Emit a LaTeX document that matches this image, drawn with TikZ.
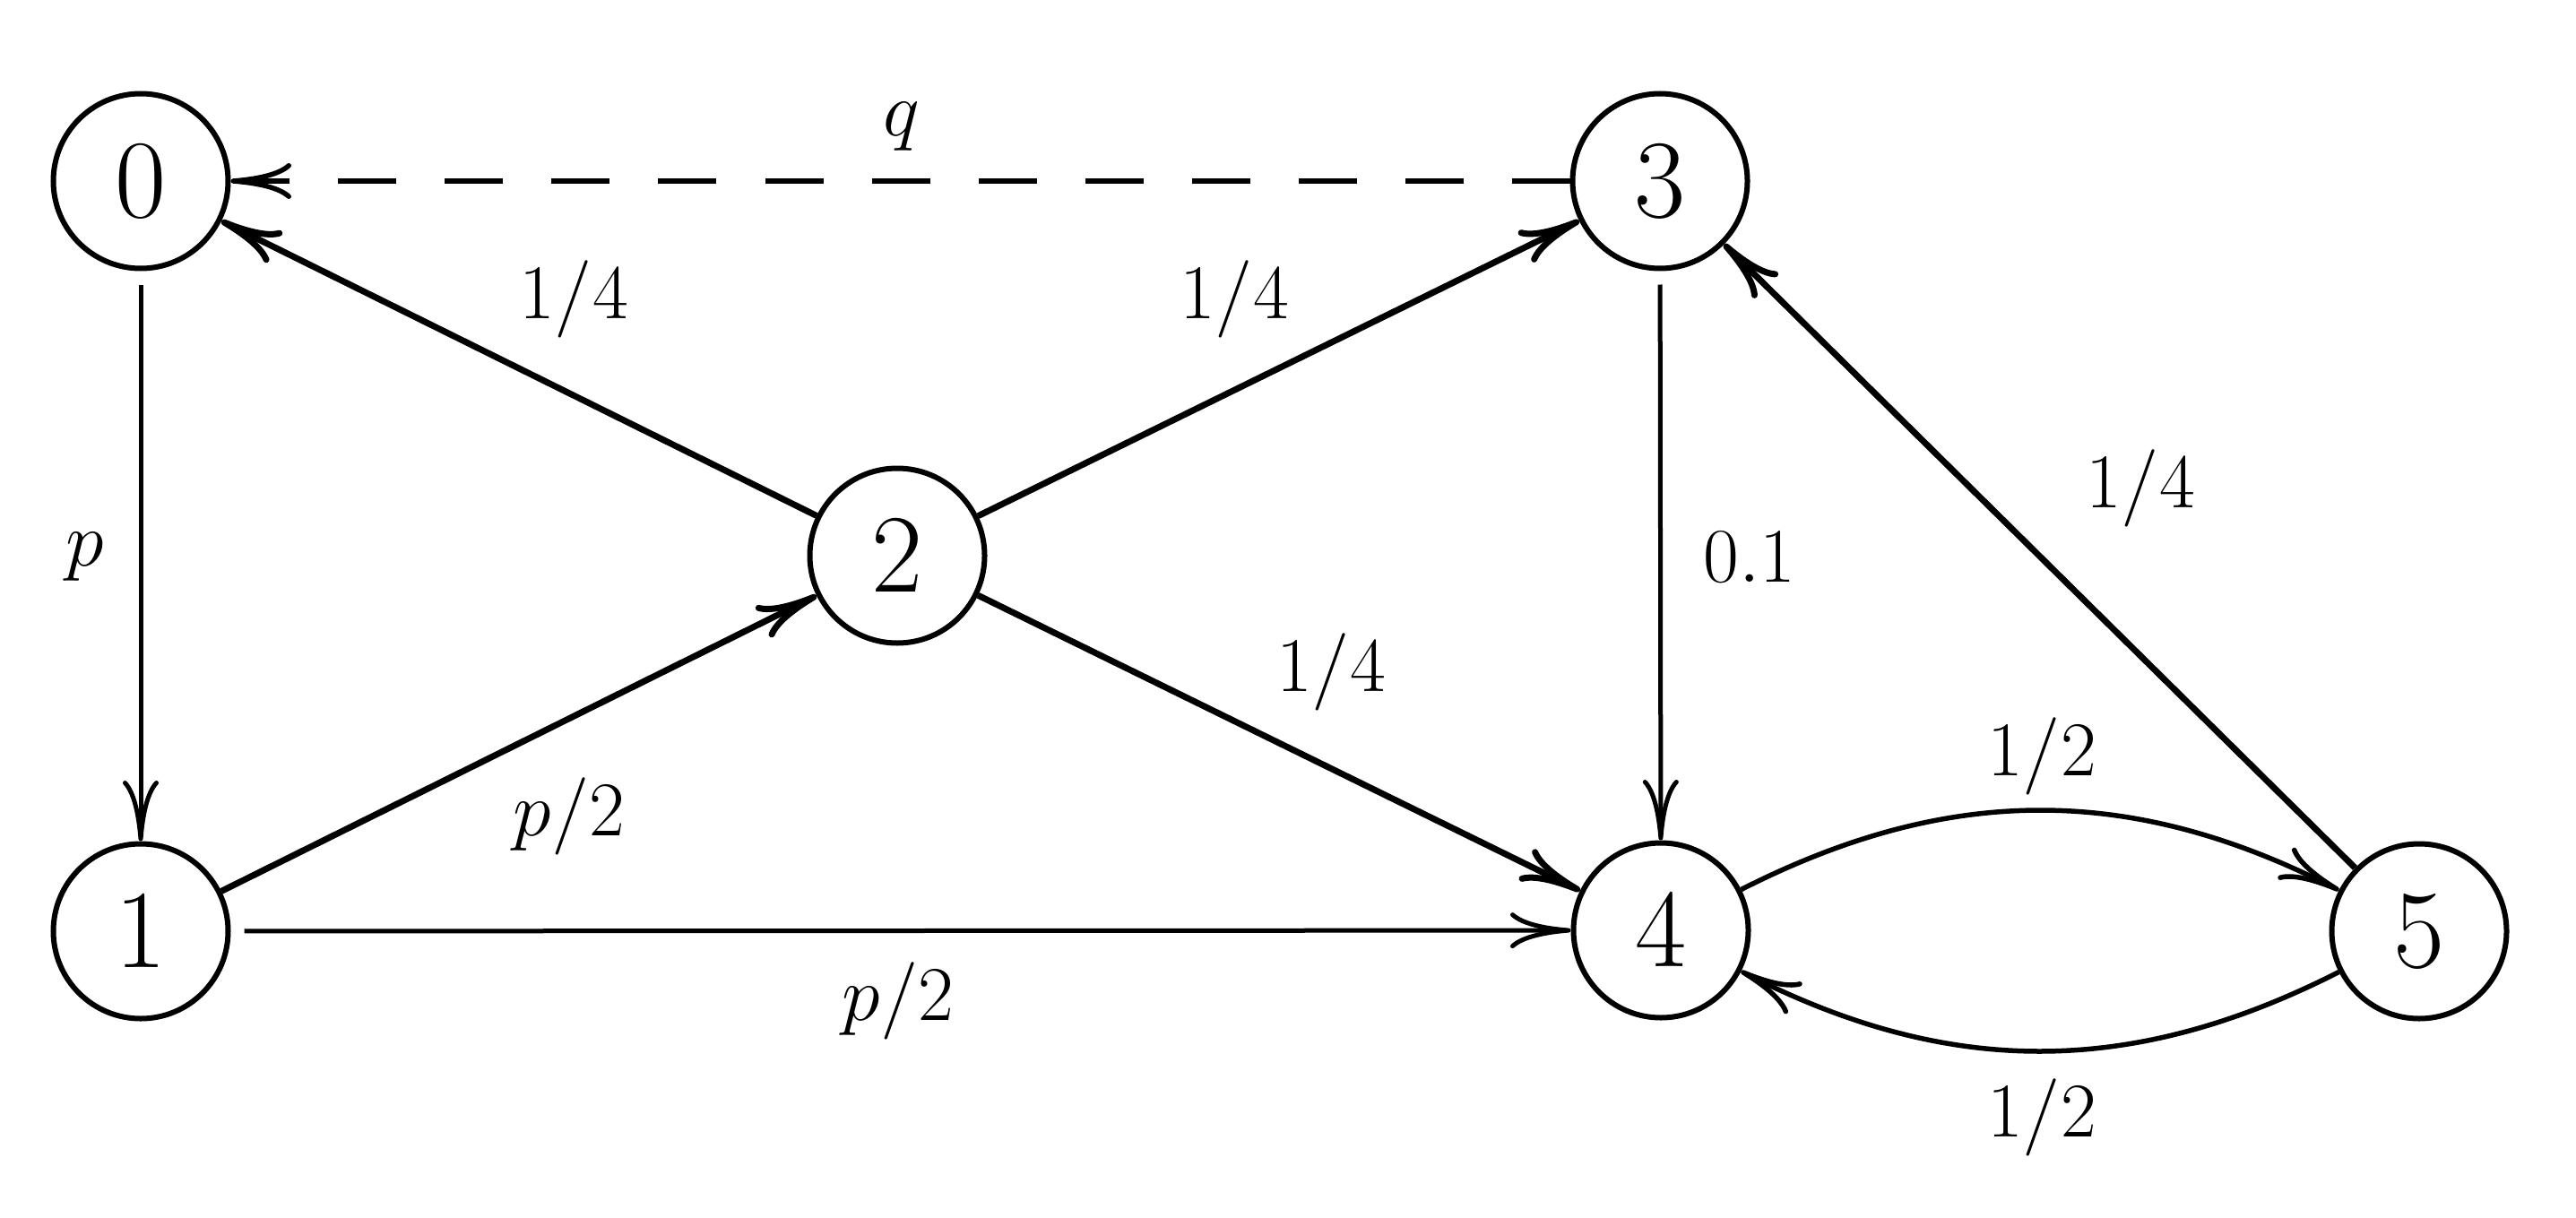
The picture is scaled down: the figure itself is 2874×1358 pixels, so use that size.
\documentclass[tikz,border=0pt]{standalone}
\usetikzlibrary{arrows.meta}
\begin{document}
\begin{tikzpicture}[x=0.2pt,y=0.2pt,
  state/.style={circle,draw,line width=1.2pt,minimum size=39pt,inner sep=0pt,
    font=\fontsize{26.4}{30}\selectfont},
  lbl/.style={inner sep=0pt,font=\fontsize{18}{22}\selectfont},
  tip/.style={-{To[length=13.5pt,width=8pt]}},
  heavy/.style={tip,line width=1.4pt},
  light/.style={tip,line width=1pt},
  gap/.style={shorten <=3pt}]
\useasboundingbox (0,0) rectangle (2874,-1358);

% states
\node[state] (n0) at (157,-202)  {$0$};
\node[state] (n1) at (157,-1039) {$1$};
\node[state] (n2) at (1001,-620) {$2$};
\node[state] (n3) at (1852,-202) {$3$};
\node[state] (n4) at (1853,-1038) {$4$};
\node[state] (n5) at (2699,-1039) {$5$};

% transitions
\draw[light,gap] (n0) -- (n1);
\draw[heavy] (n1) -- (n2);
\draw[light,gap] (n1) -- (n4);
\draw[heavy] (n2) -- (n0);
\draw[heavy] (n2) -- (n3);
\draw[heavy] (n2) -- (n4);
\draw[light,gap] (n3) -- (n4);
\draw[heavy] (n5) -- (n3);
\draw[tip,line width=1.1pt,dash pattern=on 13pt off 10.8pt] (n3) -- (n0);
\draw[tip,line width=1.1pt] (n4) to[bend left=27] (n5);
\draw[tip,line width=1.1pt] (n5) to[bend left=27] (n4);

% transition probabilities
\node[lbl] (lq)   at (1006,-141)  {$q$};
\node[lbl] (l20)  at (640,-334)   {$1/4$};
\node[lbl] (l23)  at (1377,-334)  {$1/4$};
\node[lbl] (l01)  at (95,-621)    {$p$};
\node[lbl] (l12)  at (635,-911)   {$p/2$};
\node[lbl] (l14)  at (1002,-1117) {$p/2$};
\node[lbl] (l34)  at (1952,-622)  {$0.1$};
\node[lbl] (l24)  at (1485,-750)  {$1/4$};
\node[lbl] (l53)  at (2388,-545)  {$1/4$};
\node[lbl] (l45)  at (2278,-844)  {$1/2$};
\node[lbl] (l54)  at (2278,-1247) {$1/2$};
\end{tikzpicture}
\end{document}
